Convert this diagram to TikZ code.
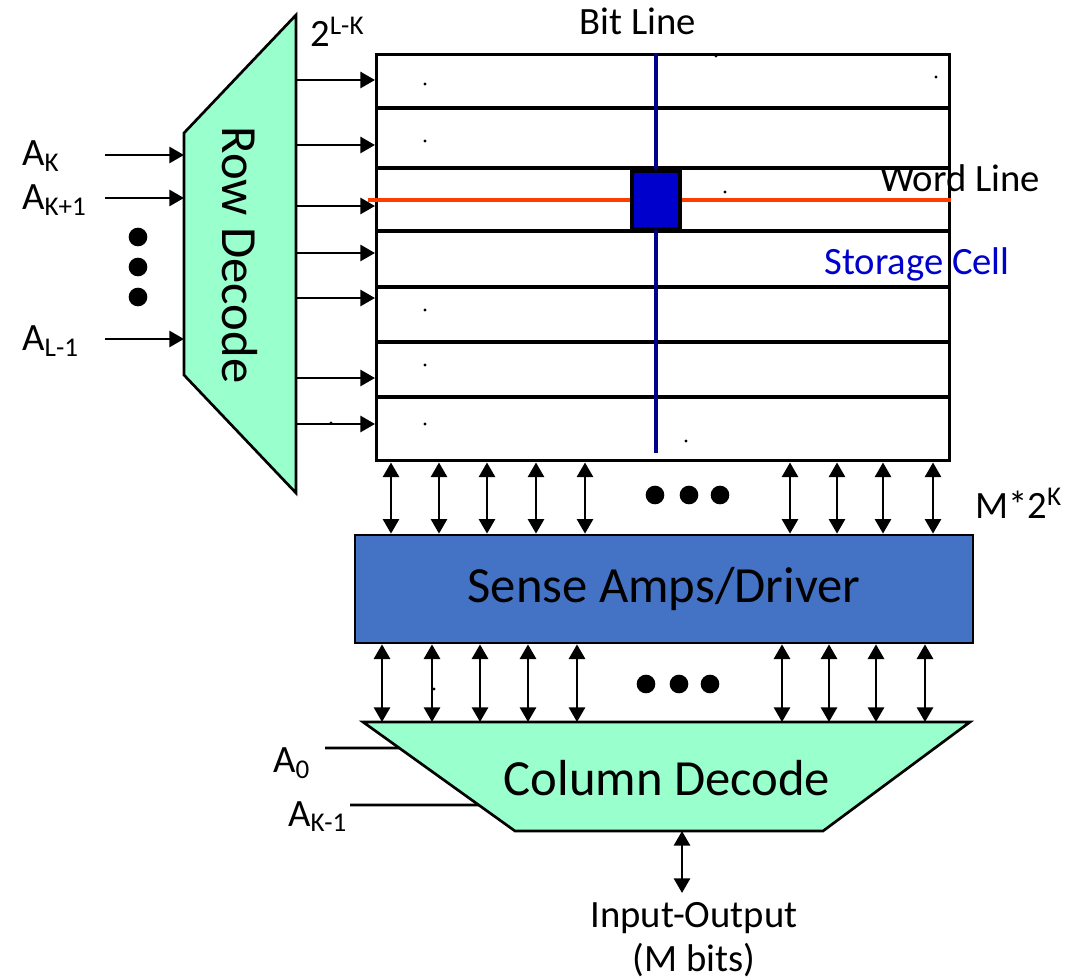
\documentclass[tikz,border=0pt]{standalone}
\usepackage{fontspec}
\setmainfont{Carlito}
\usetikzlibrary{positioning, arrows.meta, calc}
\definecolor{decgreen}{RGB}{153,255,204}
\definecolor{ampblue}{RGB}{68,114,196}
\definecolor{cellblue}{RGB}{0,0,204}
\definecolor{bitblue}{RGB}{0,0,140}
\definecolor{wordred}{RGB}{255,60,0}
\tikzset{
	>={Triangle[length=11pt 0,width=12pt 0]}, %filled arrow heads
	wire/.style={->, line width=2.2pt}, %one way signal lines
	bus/.style={<->, line width=2.2pt}, %two way data lines
	grid/.style={line width=2.6pt}, %rows of the array
	lbl/.style={font=\fontsize{29}{33}\selectfont, inner sep=0pt}, %small labels
	big/.style={font=\fontsize{38}{42}\selectfont, inner sep=0pt}, %block titles
	dot/.style={fill=black}, %ellipsis dots
}

\begin{document}
\begin{tikzpicture}[x=0.75pt,y=-0.75pt]
			\useasboundingbox (0,0) rectangle (1074,980);
			% row decoder
			\filldraw[fill=decgreen, line width=2pt] (184,133) coordinate (rdNW) -- (296,15) coordinate (rdNE)
			-- (296,493) coordinate (rdSE) -- (184,375) coordinate (rdSW) -- cycle;
			\node[big, rotate=-90] (RD) at (240,255) {Row Decode};
			% memory array
			\node[draw, line width=2.6pt, fill=white, anchor=north west, inner sep=0pt,
			minimum width=573*0.75pt, minimum height=406*0.75pt] (arr) at (375,53) {};
			\foreach \y in {108,168,231,287,342,397}
			\draw[grid] (arr.west |- 0,\y) -- (arr.east |- 0,\y);
			\coordinate (wl) at (368,200);
			\draw[wordred, line width=3pt] (wl) -- (wl -| arr.east);
			\draw[bitblue, line width=2.8pt] (arr.north -| 656,0) -- (656,453);
			\node[draw, line width=2.8pt, fill=cellblue, inner sep=0pt,
			minimum width=48*0.75pt, minimum height=57*0.75pt] (cell) at (656,200) {};
			\foreach \p in {(425,84),(425,141),(716,56),(936,77),(725,192),(425,310),(425,365),(425,424),(686,441),(434,689),(331,423)}
			\fill \p circle (1.2pt);
			\node[lbl] (bl) at (638,21) {Bit Line};
			\node[lbl] (wlt) at (960,178) {Word Line};
			\node[lbl, text=cellblue] (sc) at (917,264) {Storage Cell};
			\node[lbl, anchor=base west] (rows) at (310,47) {2\textsuperscript{L-K}};
			% address inputs
			\node[lbl, anchor=base west] (aK) at (22,166) {A\textsubscript{K}};
			\node[lbl, anchor=base west] (aK1) at (22,210) {A\textsubscript{K+1}};
			\node[lbl, anchor=base west] (aL) at (22,351) {A\textsubscript{L-1}};
			\foreach \y/\n in {155/iK,198/iK1,339/iL} {
				\coordinate (\n) at (105,\y);
				\draw[wire] (\n) -- (\n -| rdNW);
			}
			\foreach \y in {237,267,297}
			\fill[dot] (138,\y) circle (7pt);
			% word line drivers
			\foreach \y in {80,145,206,253,298,378,424}
			\draw[wire] (rdNE |- 0,\y) -- (arr.west |- 0,\y);
			% sense amps
			\node[draw, line width=2pt, fill=ampblue, inner sep=0pt, big,
			minimum width=618*0.75pt, minimum height=108*0.75pt] (amp) at (664,589) {Sense Amps/Driver};
			\foreach \x in {391,439,487,536,585,790,837,883,933}
			\draw[bus] (arr.south -| \x,0) -- (amp.north -| \x,0);
			\foreach \x in {655,689,720}
			\fill[dot] (\x,495) circle (7pt);
			\node[lbl, anchor=base west] (mk) at (975,518) {M*2\textsuperscript{K}};
			% column decoder
			\filldraw[fill=decgreen, line width=2pt] (363,722) coordinate (cdNW) -- (970,722) coordinate (cdNE)
			-- (823,831) coordinate (cdSE) -- (515,831) coordinate (cdSW) -- cycle;
			\node[big] (CD) at (667,778) {Column Decode};
			\foreach \x in {382,432,480,528,577,782,829,876,925}
			\draw[bus] (amp.south -| \x,0) -- (cdNW -| \x,0);
			\foreach \x in {646,679,710}
			\fill[dot] (\x,684) circle (7pt);
			\coordinate (i0) at (325,748);
			\coordinate (iK) at (350,805);
			\draw[line width=2pt] (i0) -- ($(cdNW)!0.2385!(cdSW)$);
			\draw[line width=2pt] (iK) -- ($(cdNW)!0.7615!(cdSW)$);
			\node[lbl, anchor=base west] (a0) at (273,772) {A\textsubscript{0}};
			\node[lbl, anchor=base west] (aKm) at (288,826) {A\textsubscript{K-1}};
			% data in and out
			\node[lbl, align=center] (io) at (694,940) {Input-Output\\(M bits)};
			\draw[bus] (cdSW -| 682,0) -- (682,893);
\end{tikzpicture}
\end{document}
